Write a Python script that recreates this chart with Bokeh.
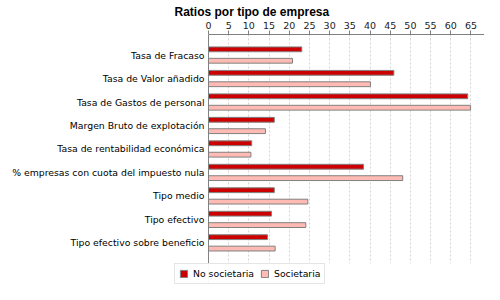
from bokeh.plotting import figure
from bokeh.models import (Range1d, FixedTicker, ColumnDataSource, Title, Legend, LegendItem, Span)
from bokeh.core.properties import value
from bokeh.embed import file_html
from bokeh.resources import INLINE

categories = [
    "Tasa de Fracaso",
    "Tasa de Valor añadido",
    "Tasa de Gastos de personal",
    "Margen Bruto de explotación",
    "Tasa de rentabilidad económica",
    "% empresas con cuota del impuesto nula",
    "Tipo medio",
    "Tipo efectivo",
    "Tipo efectivo sobre beneficio",
]
no_societaria = [23.1, 45.9, 64.2, 16.3, 10.7, 38.4, 16.3, 15.6, 14.6]
societaria = [20.8, 40.1, 64.9, 14.1, 10.5, 48.1, 24.6, 24.1, 16.5]
series_names = ["No societaria", "Societaria"]
x_ticks = list(range(0, 70, 5))

FONT = "DejaVu Sans"
RED = "#CC0000"
PINK = "#FFBBB3"
EDGE = "#808080"

idx = list(range(len(categories)))
off = 0.243
src_ns = ColumnDataSource(dict(y=[i - off for i in idx], v=no_societaria))
src_s = ColumnDataSource(dict(y=[i + off for i in idx], v=societaria))
src_lab = ColumnDataSource(dict(y=idx, x=[0] * len(idx), t=categories))

X_MAX = 68.35
Y_TOP, Y_BOT = -0.875, 8.88

# frame covers the whole figure below the title/axis; value 0 sits 208px from the left
p = figure(width=484, height=284, output_backend="svg", toolbar_location=None,
           x_axis_location="above", y_axis_location="left",
           x_range=Range1d(-51.51, X_MAX), y_range=Range1d(9.773, Y_TOP),
           min_border_left=0, min_border_right=0, min_border_top=34,
           min_border_bottom=0)
p.outline_line_color = None
p.background_fill_color = "white"
p.border_fill_color = "white"
p.yaxis.visible = False

p.xgrid.grid_line_color = "#d4d4d4"
p.xgrid.grid_line_dash = "2 2"
p.xgrid.ticker = FixedTicker(ticks=x_ticks)
if "cross_bounds" in p.xgrid[0].properties():
    p.xgrid[0].cross_bounds = (Y_TOP, Y_BOT)
p.ygrid.grid_line_color = None

p.add_layout(Span(location=0, dimension="height", line_color=EDGE, line_width=1))

r1 = p.hbar(y="y", right="v", left=0, height=0.205, source=src_ns,
            fill_color=RED, line_color=EDGE, line_width=1)
r2 = p.hbar(y="y", right="v", left=0, height=0.205, source=src_s,
            fill_color=PINK, line_color=EDGE, line_width=1)

p.text(x="x", y="y", text="t", source=src_lab, x_offset=-4,
       text_align="right", text_baseline="middle",
       text_font=value(FONT), text_font_size="9.3px", text_color="#000000")

xa = p.xaxis[0]
xa.ticker = FixedTicker(ticks=x_ticks)
xa.bounds = (0, X_MAX)
xa.minor_tick_line_color = None
xa.major_tick_in = 0
xa.major_tick_out = 4
xa.major_tick_line_color = EDGE
xa.axis_line_color = EDGE
xa.major_label_text_font = FONT
xa.major_label_text_font_size = "9.5px"
xa.major_label_text_color = "#222222"
xa.major_label_standoff = 2

title = Title(text="Ratios por tipo de empresa", align="left", offset=174,
              text_font="Liberation Sans", text_font_style="bold", text_font_size="12px",
              text_color="#000000", standoff=0)
p.add_layout(title, "above")

legend = Legend(items=[LegendItem(label=series_names[0], renderers=[r1]),
                       LegendItem(label=series_names[1], renderers=[r2])],
                location=(174, 0), orientation="horizontal",
                glyph_width=9, glyph_height=9, label_height=11,
                label_text_font=FONT, label_text_font_size="9.3px",
                label_text_color="#000000",
                label_standoff=5, spacing=6, padding=4, margin=0,
                border_line_color="#cccccc", background_fill_color="white")
p.add_layout(legend, "center")

open("out.html", "w").write(file_html(p, INLINE))
